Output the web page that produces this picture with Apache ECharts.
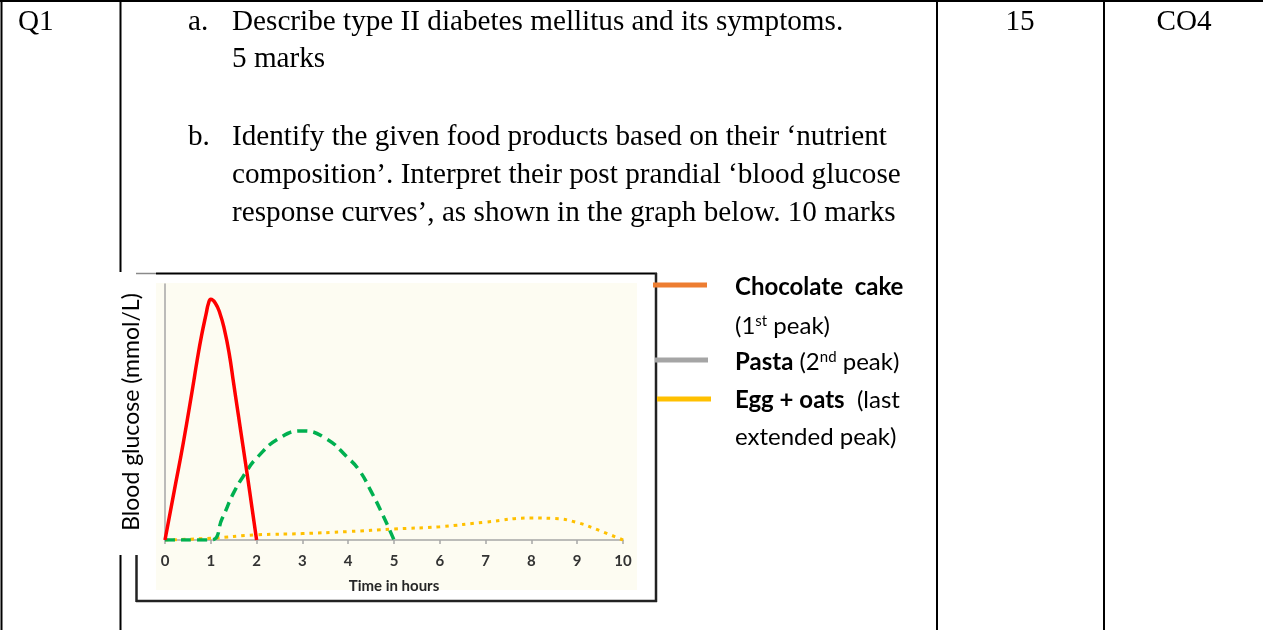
<!DOCTYPE html>
<html>
<head>
<meta charset="utf-8">
<script src="https://cdn.jsdelivr.net/npm/echarts@6/dist/echarts.min.js"></script>
<style>
html,body{margin:0;padding:0;background:#fff;}
#c{width:1263px;height:630px;}
</style>
</head>
<body>
<div id="c"></div>
<script>
// ---- data ----
const hourTicks = ['0','1','2','3','4','5','6','7','8','9','10'];
const cakeHours = [0, 0.2, 0.4, 0.6, 0.7, 0.8, 0.9, 0.95, 1.0, 1.1, 1.2, 1.3, 1.4, 1.5, 1.6, 1.7, 1.8, 1.9, 2.0];
const cakeGlucose = [0, 1.9, 3.8, 5.9, 7.0, 8.0, 8.85, 9.25, 9.4, 9.25, 8.85, 8.2, 7.3, 6.1, 4.9, 3.7, 2.5, 1.25, 0];
const pastaHours = [0, 1, 1.25, 1.5, 1.75, 2, 2.5, 3, 3.5, 4, 4.25, 4.5, 4.75, 5];
const pastaGlucose = [0, 0, 0.85, 1.85, 2.6, 3.2, 3.98, 4.26, 3.98, 3.2, 2.7, 1.9, 1.0, 0];
const eggHours = [0, 1, 2, 3, 4, 5, 6, 7, 8, 8.5, 9, 9.5, 10];
const eggGlucose = [0, 0.07, 0.2, 0.25, 0.33, 0.43, 0.52, 0.7, 0.86, 0.84, 0.68, 0.36, 0];
const legendNames = ['Chocolate  cake', 'Pasta', 'Egg + oats'];
const tableTexts = {
  q: 'Q1',
  marks: '15',
  co: 'CO4',
  aLabel: 'a.',
  aLines: ['Describe type II diabetes mellitus and its symptoms.', '5 marks'],
  bLabel: 'b.',
  bLines: ['Identify the given food products based on their \u2018nutrient',
           'composition\u2019. Interpret their post prandial \u2018blood glucose',
           'response curves\u2019, as shown in the graph below. 10 marks']
};
const yTitle = 'Blood glucose (mmol/L)';
const xTitle = 'Time in hours';

function pairs(xs, ys){ return xs.map((x,i)=>[x, ys[i]]); }

const serif = '"Liberation Serif", "Times New Roman", serif';
const sans = 'Lato, "Open Sans", sans-serif';
const TF = '29.2px ' + serif;

function line(x1,y1,x2,y2,color,w,z){
  return {type:'line', z: z||0, silent:true, shape:{x1,y1,x2,y2}, style:{stroke:color, lineWidth:w}};
}
function txt(text,x,y,align,font,fill,rich,z){
  const s = {text, x, y, textAlign:align, textVerticalAlign:'middle', verticalAlign:'middle', font, fill: fill||'#000'};
  if (rich) s.rich = rich;
  return {type:'text', z: z||5, silent:true, style:s};
}

const graphics = [];
// table lines
graphics.push(line(0,1,1263,1,'#000',2,0));
graphics.push(line(1.5,0,1.5,630,'#000',2,0));
graphics.push(line(120.5,0,120.5,630,'#000',2,0));
graphics.push(line(937,0,937,630,'#000',2,0));
graphics.push(line(1104,0,1104,630,'#000',2,0));
// white image box covering table line
graphics.push({type:'rect', z:1, silent:true, shape:{x:117,y:272,width:541,height:283}, style:{fill:'#fff'}});
graphics.push({type:'rect', z:1, silent:true, shape:{x:136,y:555,width:521,height:47}, style:{fill:'#fff'}});
// beige plot background
graphics.push({type:'rect', z:1, silent:true, shape:{x:156,y:283,width:481,height:307}, style:{fill:'#FDFCF2'}});
// box border
graphics.push(line(136,273.5,156,273.5,'#8a8a8a',1.5,2));
graphics.push(line(156,273.5,657,273.5,'#000',2,2));
graphics.push(line(656,273,656,602,'#222',2.5,2));
graphics.push(line(136,601,657,601,'#222',2.5,2));
graphics.push(line(136.5,555,136.5,602,'#222',2.5,2));
// legend swatches
graphics.push(line(653,285,707,285,'#ED7D31',5,3));
graphics.push(line(655,360,708,360,'#A5A5A5',5,3));
graphics.push(line(657,399,711,399,'#FFC000',5,3));
// legend texts
const LF = '24px ' + sans;
const richL = {
  b:{fontFamily:'Lato', fontWeight:'bold', fontSize:24, fill:'#000'},
  n:{fontFamily:'Lato', fontSize:24, fill:'#000'},
  sup:{fontFamily:'Lato', fontSize:15, fill:'#000', verticalAlign:'top', padding:[0,0,10,0]}
};
graphics.push(txt('{b|' + legendNames[0] + '}', 735, 287, 'left', LF, '#000', richL));
graphics.push(txt('{n|(1}{sup|st}{n| peak)}', 735, 326, 'left', LF, '#000', richL));
graphics.push(txt('{b|' + legendNames[1] + '}{n| (2}{sup|nd}{n| peak)}', 735, 362, 'left', LF, '#000', richL));
graphics.push(txt('{b|' + legendNames[2] + '}{n|  (last}', 735, 400, 'left', LF, '#000', richL));
graphics.push(txt('{n|extended peak)}', 735, 437, 'left', LF, '#000', richL));
// table texts
graphics.push(txt(tableTexts.q, 18, 22, 'left', TF));
graphics.push(txt(tableTexts.marks, 1020, 22, 'center', TF));
graphics.push(txt(tableTexts.co, 1184, 22, 'center', TF));
graphics.push(txt(tableTexts.aLabel, 188, 22, 'left', TF));
graphics.push(txt(tableTexts.aLines[0], 232, 22, 'left', TF));
graphics.push(txt(tableTexts.aLines[1], 232, 59, 'left', TF));
graphics.push(txt(tableTexts.bLabel, 188, 137, 'left', TF));
tableTexts.bLines.forEach((l,i)=>graphics.push(txt(l, 232, 137 + i*38, 'left', TF)));

const chart = echarts.init(document.getElementById('c'), null, {renderer:'canvas'});
chart.setOption({
  animation:false,
  backgroundColor:'#fff',
  graphic: graphics,
  grid:{left:165, right:640, top:284, bottom:90, containLabel:false},
  xAxis:{
    type:'value', min:0, max:10, interval:1, z:10,
    name: xTitle, nameLocation:'middle', nameGap:39,
    nameTextStyle:{fontFamily:'Lato', fontWeight:'bold', fontSize:15, color:'#262626'},
    axisLine:{show:true, lineStyle:{color:'#A6A6A6', width:1.5}},
    axisTick:{show:true, length:4, lineStyle:{color:'#A6A6A6', width:1.5}},
    splitLine:{show:false},
    axisLabel:{margin:14, fontFamily:'Lato', fontWeight:'bold', fontSize:15, color:'#333',
      formatter:(v)=>hourTicks[Math.round(v)]}
  },
  yAxis:{
    type:'value', min:0, max:10, z:10,
    name: yTitle, nameLocation:'middle', nameRotate:90, nameGap:22,
    nameTextStyle:{fontFamily:'Lato', fontSize:23, color:'#000'},
    axisLine:{show:true, lineStyle:{color:'#A6A6A6', width:1.5}},
    axisTick:{show:false}, axisLabel:{show:false}, splitLine:{show:false}
  },
  series:[
    {type:'line', name:'Egg + oats', data:pairs(eggHours, eggGlucose), smooth:0.5, symbol:'none', z:11,
      lineStyle:{color:'#FFC000', width:3, type:[3.5,5], cap:'butt'}},
    {type:'line', name:'Pasta', data:pairs(pastaHours, pastaGlucose), smooth:0.5, symbol:'none', z:12,
      lineStyle:{color:'#00B050', width:3.5, type:[10,6], cap:'butt'}},
    {type:'line', name:'Chocolate cake', data:pairs(cakeHours, cakeGlucose), smooth:0.5, symbol:'none', z:13,
      lineStyle:{color:'#FF0000', width:3.5}}
  ]
});
</script>
</body>
</html>
